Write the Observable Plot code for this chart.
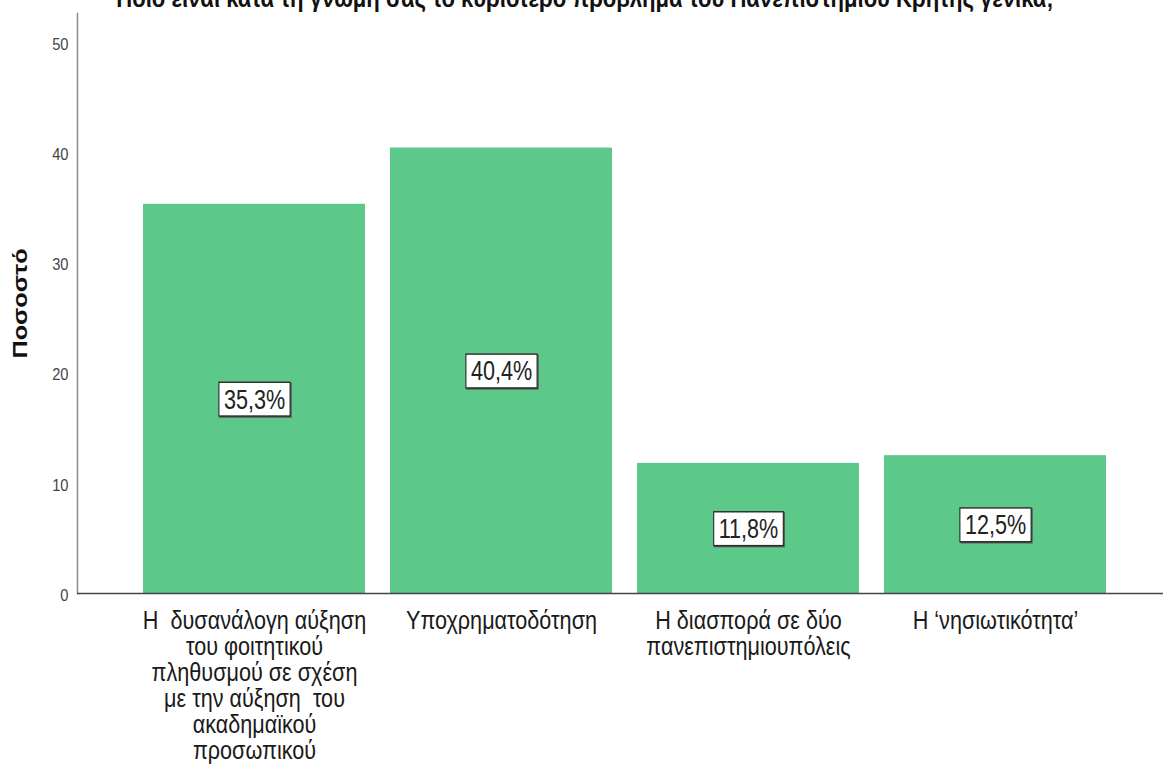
<!DOCTYPE html>
<html>
<head>
<meta charset="utf-8">
<script src="https://cdn.jsdelivr.net/npm/d3@7"></script>
<script src="https://cdn.jsdelivr.net/npm/@observablehq/plot@0.6"></script>
<style>
  html, body { margin: 0; padding: 0; background: #fff; overflow: hidden; }
  #wrap { position: relative; width: 1163px; height: 765px; overflow: hidden; }
  #title { position: absolute; left: 0; width: 1170px; top: -15px; text-align: center;
    font-family: "Liberation Sans", Arial, sans-serif;
    font-weight: bold; font-size: 25.5px; line-height: 26px; color: #111; white-space: nowrap;
    transform: scaleX(0.865); transform-origin: 585px 0; }
</style>
</head>
<body>
<div id="wrap">
  <div id="title">Ποιο είναι κατά τη γνώμη σας το κυριότερο πρόβλημα του Πανεπιστημίου Κρήτης γενικά;</div>
</div>
<script>
const categories = [
  "Η δυσανάλογη αύξηση του φοιτητικού πληθυσμού σε σχέση με την αύξηση του ακαδημαϊκού προσωπικού",
  "Υποχρηματοδότηση",
  "Η διασπορά σε δύο πανεπιστημιουπόλεις",
  "Η ‘νησιωτικότητα’"
];
const values = [35.3, 40.4, 11.8, 12.5];
const tickLabels = [
  "Η  δυσανάλογη αύξηση\nτου φοιτητικού\nπληθυσμού σε σχέση\nμε την αύξηση  του\nακαδημαϊκού\nπροσωπικού",
  "Υποχρηματοδότηση",
  "Η διασπορά σε δύο\nπανεπιστημιουπόλεις",
  "Η ‘νησιωτικότητα’"
];
const yTicks = [0, 10, 20, 30, 40, 50];
const yLabel = "Ποσοστό";

const data = categories.map((c, i) => ({
  cat: c,
  value: values[i],
  label: values[i].toFixed(1).replace(".", ",") + "%",
  tick: tickLabels[i]
}));

const font = '"Liberation Sans", Arial, sans-serif';

const chart = Plot.plot({
  width: 1163,
  height: 765,
  marginTop: 13,
  marginBottom: 172,
  marginLeft: 77,
  marginRight: 0,
  style: { fontFamily: font, background: "transparent" },
  x: { domain: categories, range: [143.3, 1106.7], paddingInner: 0.1, paddingOuter: 0, axis: null },
  y: { domain: [0, 52.6], axis: null },
  marks: [
    Plot.barY(data, { x: "cat", y: "value", fill: "#5cc98a" }),
    Plot.frame({ anchor: "left", stroke: "#8c8c8c", strokeWidth: 1.5 }),
    Plot.ruleY([0], { stroke: "#444", strokeWidth: 1.3 }),
    Plot.axisY({ ticks: yTicks, tickSize: 0, tickPadding: 9, dy: 2, fontSize: 17, fill: "#444", label: null }),
    Plot.text([yLabel], { frameAnchor: "left", textAnchor: "middle", dx: -57, rotate: -90, fontSize: 21,
      fontWeight: "bold", fill: "#111" }),
    Plot.text(data, { x: "cat", text: "tick", frameAnchor: "bottom", lineAnchor: "top", dy: 17,
      lineHeight: 1.04, fontSize: 25, fill: "#1a1a1a" }),
    Plot.text(data, { x: "cat", y: d => d.value / 2, text: "label", dy: 1, fontSize: 27, fill: "#222" })
  ]
});

document.getElementById("wrap").append(chart);
chart.style.position = "absolute";
chart.style.left = "0px";
chart.style.top = "0px";
document.getElementById("title").style.zIndex = 2;

// emulate the vertically stretched look of the original: compress horizontal text, lengthen rotated text
const SX = 0.865, SXL = 0.8;
const labelSet = new Set(data.map(d => d.label));
const ns = "http://www.w3.org/2000/svg";
chart.querySelectorAll("text").forEach(t => {
  const tr = t.getAttribute("transform") || "";
  let x = parseFloat(t.getAttribute("x"));
  if (!isFinite(x)) x = 0;
  if (tr.includes("rotate")) {
    t.setAttribute("transform", `${tr} translate(${x},0) scale(1.2,1) translate(${-x},0)`);
    return;
  }
  const isLabel = labelSet.has(t.textContent);
  const sx = isLabel ? SXL : SX;
  t.setAttribute("transform", `${tr} translate(${x},0) scale(${sx},1) translate(${-x},0)`);
  if (isLabel) {
    const b = t.getBBox();
    const px = 5 / sx, py = 3;
    const mk = (dx, dy, fill, stroke) => {
      const r = document.createElementNS(ns, "rect");
      r.setAttribute("x", b.x - px + dx / sx);
      r.setAttribute("y", b.y - py + 1 + dy);
      r.setAttribute("width", b.width + 2 * px);
      r.setAttribute("height", b.height + 2 * py - 2);
      r.setAttribute("fill", fill);
      r.setAttribute("stroke", stroke);
      r.setAttribute("stroke-width", 1.4);
      r.setAttribute("transform", t.getAttribute("transform"));
      t.parentNode.insertBefore(r, t);
    };
    mk(1, 1, "#555", "#555");
    mk(0, 0, "#fff", "#2a2a2a");
  }
});
</script>
</body>
</html>
